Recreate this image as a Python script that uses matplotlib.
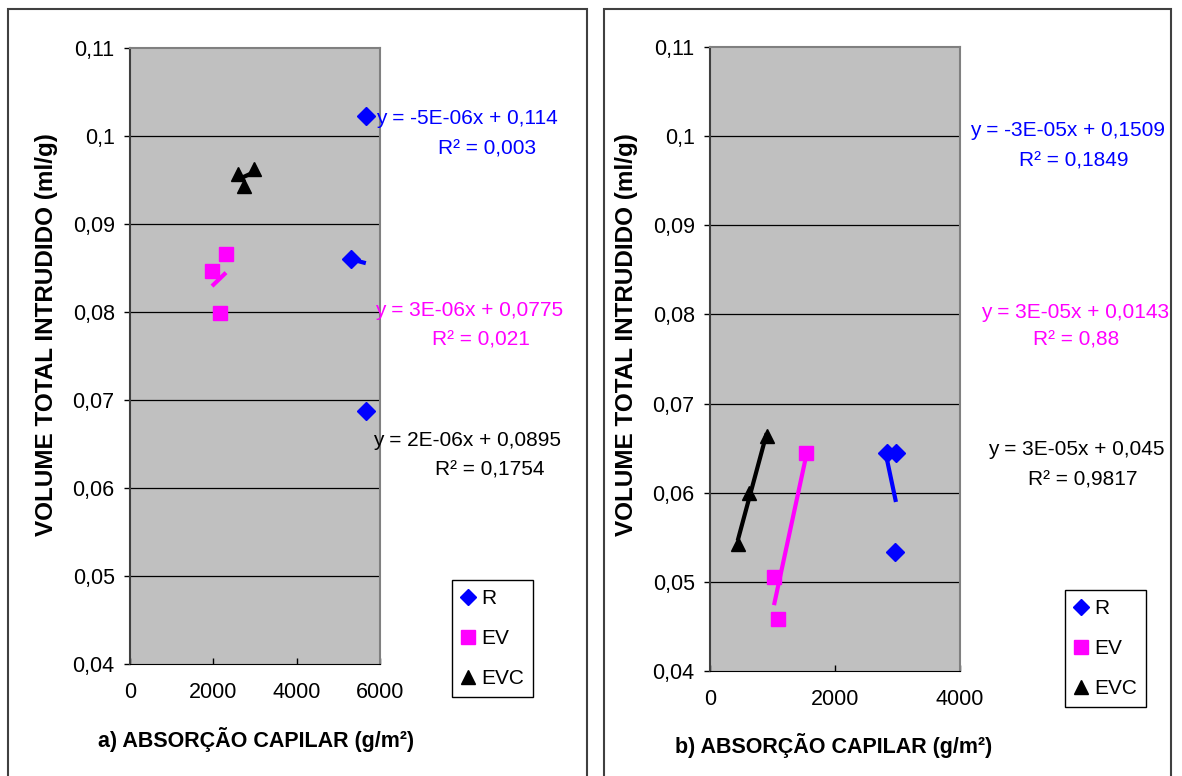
import matplotlib.pyplot as plt
import numpy as np
from matplotlib.patches import Rectangle

plt.rcParams['font.family'] = ['Liberation Sans', 'DejaVu Sans']

W, H = 1182, 776

# a) valores
a_r_x = [5660, 5300, 5660]
a_r_y = [0.1023, 0.0860, 0.0688]
a_ev_x = [2304, 1968, 2152]
a_ev_y = [0.0866, 0.0847, 0.0799]
a_evc_x = [2584, 2976, 2736]
a_evc_y = [0.0957, 0.0963, 0.0943]

# b)
b_r_x = [2827, 2975, 2960]
b_r_y = [0.0645, 0.0645, 0.0533]
b_ev_x = [1536, 1024, 1088]
b_ev_y = [0.0645, 0.0506, 0.0458]
b_evc_x = [907, 624, 443]
b_evc_y = [0.0664, 0.0600, 0.0542]

series_names = ['R', 'EV', 'EVC']

a_eq = ['y = -5E-06x + 0,114', 'y = 3E-06x + 0,0775', 'y = 2E-06x + 0,0895']
a_r2 = ['R² = 0,003', 'R² = 0,021', 'R² = 0,1754']
b_eq = ['y = -3E-05x + 0,1509', 'y = 3E-05x + 0,0143', 'y = 3E-05x + 0,045']
b_r2 = ['R² = 0,1849', 'R² = 0,88', 'R² = 0,9817']

y_ticks = [0.04, 0.05, 0.06, 0.07, 0.08, 0.09, 0.10, 0.11]
y_ticklabels = ['0,04', '0,05', '0,06', '0,07', '0,08', '0,09', '0,1', '0,11']
a_xticks = [0, 2000, 4000, 6000]
b_xticks = [0, 2000, 4000]

colors = ['#0000FF', '#FF00FF', '#000000']
markers = ['D', 's', '^']
msizes = [9, 10, 10]

fig = plt.figure(figsize=(W / 100, H / 100), dpi=100)


def px(x, y):
    return x / W, 1 - y / H


# molduras dos dois gráficos
for x0, x1 in [(8, 587), (604, 1171)]:
    fig.patches.append(Rectangle(px(x0, 800), (x1 - x0) / W, (800 - 9) / H,
                                 transform=fig.transFigure, fill=False,
                                 edgecolor='#404040', lw=1.5, clip_on=False))


def painel(rect, data, xticks, xmax, eqs, r2s, eq_pos, r2_pos, xlabel, xlab_pos,
           ylab_x, leg_pos):
    ax = fig.add_axes(rect)
    ax.set_facecolor('#C0C0C0')
    ax.set_xlim(0, xmax)
    ax.set_ylim(0.04, 0.11)
    ax.set_yticks(y_ticks)
    ax.set_yticklabels(y_ticklabels)
    ax.set_xticks(xticks)
    ax.set_xticklabels([str(t) for t in xticks])
    for yv in y_ticks[1:-1]:
        ax.axhline(yv, color='black', lw=0.9, zorder=1)
    ax.tick_params(axis='y', direction='out', length=4, width=1, pad=7,
                   labelsize=15.5)
    ax.tick_params(axis='x', direction='in', length=4, width=1, pad=13,
                   labelsize=15.5)
    ax.spines['top'].set_color('#808080')
    ax.spines['right'].set_color('#808080')
    ax.spines['top'].set_linewidth(1.5)
    ax.spines['right'].set_linewidth(1.5)
    ax.spines['left'].set_color('#404040')
    ax.spines['left'].set_linewidth(1.5)
    ax.spines['bottom'].set_color('black')

    handles = []
    for i, (xs, ys) in enumerate(data):
        xs = np.array(xs, dtype=float)
        ys = np.array(ys, dtype=float)
        # linha de tendência linear (mínimos quadrados), como no Excel
        k, b = np.polyfit(xs, ys, 1)
        xl = np.array([xs.min(), xs.max()])
        ax.plot(xl, k * xl + b, color=colors[i], lw=3, zorder=3,
                solid_capstyle='butt')
        h, = ax.plot(xs, ys, linestyle='none', marker=markers[i],
                     ms=msizes[i], color=colors[i], mec=colors[i], zorder=4)
        handles.append(h)
        fig.text(*px(*eq_pos[i]), eqs[i], color=colors[i], fontsize=15,
                 ha='center', va='center')
        fig.text(*px(*r2_pos[i]), r2s[i], color=colors[i], fontsize=15,
                 ha='center', va='center')

    fig.text(*px(*xlab_pos), xlabel, fontsize=15.5, fontweight='bold',
             ha='center', va='center')
    fig.text(*px(ylab_x, 335), 'VOLUME TOTAL INTRUDIDO (ml/g)', fontsize=17.5,
             fontweight='bold', rotation=90, ha='center', va='center')

    leg = ax.legend(handles, series_names, loc='upper left',
                    bbox_to_anchor=px(*leg_pos), bbox_transform=fig.transFigure,
                    borderaxespad=0, fancybox=False, framealpha=1,
                    edgecolor='black', facecolor='white', fontsize=15,
                    handlelength=0.6, handletextpad=0.35, labelspacing=1.0,
                    borderpad=0.45, markerscale=0.95)
    leg.get_frame().set_linewidth(1)
    return ax


painel([130 / W, 1 - 664 / H, 250 / W, 616 / H],
       [(a_r_x, a_r_y), (a_ev_x, a_ev_y), (a_evc_x, a_evc_y)],
       a_xticks, 6000, a_eq, a_r2,
       [(467, 118), (469, 311), (467, 440)],
       [(487, 149), (481, 340), (490, 470)],
       'a) ABSORÇÃO CAPILAR (g/m²)', (256, 740), 47, (452, 580))

painel([710 / W, 1 - 671 / H, 250 / W, 624 / H],
       [(b_r_x, b_r_y), (b_ev_x, b_ev_y), (b_evc_x, b_evc_y)],
       b_xticks, 4000, b_eq, b_r2,
       [(1068, 130), (1075, 313), (1076, 449)],
       [(1074, 161), (1076, 340), (1083, 480)],
       'b) ABSORÇÃO CAPILAR (g/m²)', (834, 745), 626, (1065, 590))

fig.savefig('out.png', dpi=100)
